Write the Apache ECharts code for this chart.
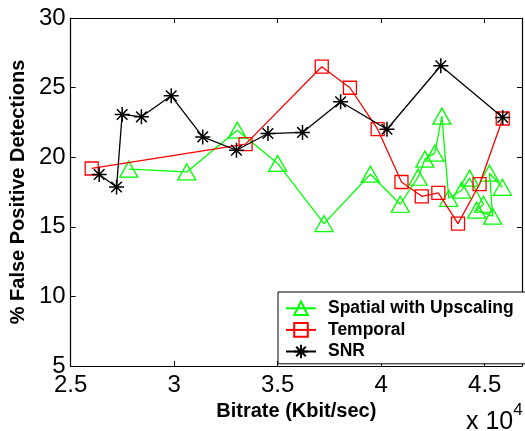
<!DOCTYPE html>
<html>
<head>
<meta charset="utf-8">
<script src="https://cdn.jsdelivr.net/npm/echarts@6/dist/echarts.min.js"></script>
<style>
html,body{margin:0;padding:0;background:#fff;}
#c{width:525px;height:431px;}
</style>
</head>
<body>
<div id="c"></div>
<script>
// Bitrate (Kbit/sec) and % false positive detections
var spatialX = [27810, 30610, 33050, 35000, 37240, 39480, 40920, 41780, 42110, 42590, 42930, 43260, 43890, 44270, 44940, 44610, 45380, 45230, 45850];
var spatialY = [19.14, 18.94, 21.94, 19.55, 15.23, 18.78, 16.62, 18.56, 19.86, 20.29, 22.95, 17.05, 17.63, 18.49, 16.62, 16.19, 15.76, 18.85, 17.84];
var temporalX = [26020, 33450, 37130, 38490, 39830, 40980, 41960, 42760, 43710, 44750, 45870];
var temporalY = [19.19, 20.94, 26.5, 24.99, 22.01, 18.22, 17.19, 17.43, 15.23, 18.06, 22.78];
var snrX = [26380, 27220, 27490, 28420, 29860, 31380, 33010, 34530, 36200, 38040, 40280, 42880, 45870];
var snrY = [18.76, 17.86, 23.07, 22.9, 24.41, 21.46, 20.5, 21.7, 21.78, 23.98, 22.01, 26.57, 22.86];
var seriesNames = ['Spatial with Upscaling', 'Temporal', 'SNR'];
var xTickValues = [25000, 30000, 35000, 40000, 45000];
var xTickLabels = ['2.5', '3', '3.5', '4', '4.5'];
var yTickValues = [5, 10, 15, 20, 25, 30];
var yTickLabels = ['5', '10', '15', '20', '25', '30'];

function zip(xs, ys) { return xs.map(function (x, i) { return [x, ys[i]]; }); }
function xLabel(v) { var i = xTickValues.indexOf(v); return i >= 0 ? xTickLabels[i] : ''; }
function yLabel(v) { var i = yTickValues.indexOf(v); return i >= 0 ? yTickLabels[i] : ''; }

var FONT = 'Liberation Sans, Arial, Helvetica, sans-serif';
var GREEN = '#00ff00', RED = '#ff0000', BLACK = '#000000';
var STAR = 'path://M0,-10L0,10M-10,0L10,0M-7.07,-7.07L7.07,7.07M-7.07,7.07L7.07,-7.07';

var chart = echarts.init(document.getElementById('c'), null, { renderer: 'canvas' });
var axisLineStyle = { color: '#000', width: 1.2 };
chart.setOption({
  animation: false,
  backgroundColor: '#fff',
  grid: { left: 68, right: 3, top: 18, bottom: 65, containLabel: false },
  xAxis: [{
    type: 'value', min: 25000, max: 46800, interval: 5000, position: 'bottom',
    name: 'Bitrate (Kbit/sec)', nameLocation: 'middle', nameGap: 28,
    nameTextStyle: { fontFamily: FONT, fontWeight: 'bold', fontSize: 20, color: '#000' },
    axisLine: { show: true, lineStyle: axisLineStyle },
    axisTick: { show: true, inside: true, length: 5, lineStyle: { color: '#000' } },
    axisLabel: { show: true, margin: 7, fontFamily: FONT, fontSize: 24, color: '#000', formatter: xLabel, showMaxLabel: false },
    splitLine: { show: false }
  }, {
    type: 'value', min: 25000, max: 46800, interval: 5000, position: 'top',
    axisLine: { show: true, lineStyle: axisLineStyle },
    axisTick: { show: true, inside: true, length: 5, lineStyle: { color: '#000' } },
    axisLabel: { show: false }, splitLine: { show: false }
  }],
  yAxis: [{
    type: 'value', min: 5, max: 30, interval: 5, position: 'left',
    name: '% False Positive Detections', nameLocation: 'middle', nameGap: 34,
    nameTextStyle: { fontFamily: FONT, fontWeight: 'bold', fontSize: 20, color: '#000' },
    axisLine: { show: true, lineStyle: axisLineStyle },
    axisTick: { show: true, inside: true, length: 5, lineStyle: { color: '#000' } },
    axisLabel: { show: true, margin: 5, fontFamily: FONT, fontSize: 24, color: '#000', formatter: yLabel },
    splitLine: { show: false }
  }, {
    type: 'value', min: 5, max: 30, interval: 5, position: 'right',
    axisLine: { show: true, lineStyle: axisLineStyle },
    axisTick: { show: true, inside: true, length: 5, lineStyle: { color: '#000' } },
    axisLabel: { show: false }, splitLine: { show: false }
  }],
  legend: {
    orient: 'vertical', left: 278, top: 292, width: 243,
    backgroundColor: '#fff', borderColor: '#000', borderWidth: 1,
    padding: [7, 30, 3, 7], itemGap: 3, itemWidth: 30, itemHeight: 17,
    textStyle: { fontFamily: FONT, fontWeight: 'bold', fontSize: 17.5, color: '#000', padding: [0, 0, 0, 7] },
    data: seriesNames
  },
  graphic: [{
    type: 'text', left: 466, top: 402,
    style: {
      text: '{a|x 10}{b|4}',
      rich: {
        a: { fontFamily: FONT, fontSize: 25, fill: '#000', verticalAlign: 'bottom', padding: [8, 0, 0, 0] },
        b: { fontFamily: FONT, fontSize: 17, fill: '#000', verticalAlign: 'top', padding: [0, 0, 12, 0] }
      }
    }
  }],
  series: [{
    name: seriesNames[0], type: 'line', data: zip(spatialX, spatialY),
    symbol: 'triangle', symbolSize: [18, 16], showAllSymbol: true,
    itemStyle: { color: 'none', borderColor: GREEN, borderWidth: 1.3 },
    lineStyle: { color: GREEN, width: 1.3 }, emphasis: { disabled: true }, z: 2
  }, {
    name: seriesNames[1], type: 'line', data: zip(temporalX, temporalY),
    symbol: 'rect', symbolSize: 13, showAllSymbol: true,
    itemStyle: { color: 'none', borderColor: RED, borderWidth: 1.3 },
    lineStyle: { color: RED, width: 1.3 }, emphasis: { disabled: true }, z: 3
  }, {
    name: seriesNames[2], type: 'line', data: zip(snrX, snrY),
    symbol: STAR, symbolSize: 15, showAllSymbol: true,
    itemStyle: { color: 'none', borderColor: BLACK, borderWidth: 1.5 },
    lineStyle: { color: BLACK, width: 1.3 }, emphasis: { disabled: true }, z: 4
  }]
});
</script>
</body>
</html>
